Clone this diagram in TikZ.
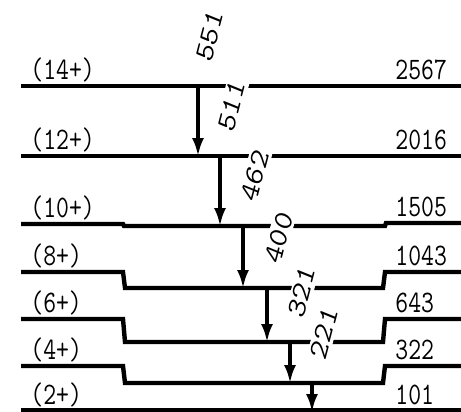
\documentclass[tikz,border=0pt]{standalone}
\usetikzlibrary{arrows.meta,calc}
\begin{document}
\begin{tikzpicture}[x=0.5pt, y=-0.5pt,
    level/.style={line width=2.2pt},
    gamma/.style={line width=1.6pt, -{Latex[length=9pt,width=6pt]}},
    spin/.style={font=\fontsize{12.5}{14}\ttfamily, yscale=1.25, anchor=base west, inner sep=0pt},
    egam/.style={font=\fontsize{13.5}{15}\ttfamily, yscale=1.25, rotate=72, fill=white, inner sep=1.2pt}]
    \useasboundingbox (0,0) rectangle (461,412);
    % levels
    \draw [level] (21,86) -- (461,86);
    \draw [level] (21,156) -- (461,156);
    \draw [level] (21,224) -- (123,224) -- (124,226) -- (385,226) -- (386,223) -- (461,223);
    \foreach \u/\d in {272/288, 319/342, 366/383}
        \draw [level] (21,\u) -- (123,\u) -- (125,\d) -- (383,\d) -- (385,\u) -- (461,\u);
    \draw [level] (21,410) -- (461,410);
    % spins and energies
    \node [spin] (s14) at (30,79) {(14+)};
    \node [spin] (s12) at (30,149) {(12+)};
    \node [spin] (s10) at (30,217) {(10+)};
    \node [spin] (s8) at (30,265) {(8+)};
    \node [spin] (s6) at (30,312) {(6+)};
    \node [spin] (s4) at (30,359) {(4+)};
    \node [spin] (s2) at (30,404) {(2+)};
    \node [spin] (e14) at (395,79) {2567};
    \node [spin] (e12) at (395,149) {2016};
    \node [spin] (e10) at (395,216) {1505};
    \node [spin] (e8) at (395,265) {1043};
    \node [spin] (e6) at (395,312) {643};
    \node [spin] (e4) at (395,359) {322};
    \node [spin] (e2) at (395,404) {101};
    % transitions
    \coordinate (t1) at (198,86);  \coordinate (b1) at (198,156);
    \coordinate (t2) at (220,156); \coordinate (b2) at (220,226);
    \coordinate (t3) at (243,226); \coordinate (b3) at (243,288);
    \coordinate (t4) at (267,288); \coordinate (b4) at (267,342);
    \coordinate (t5) at (290,342); \coordinate (b5) at (290,383);
    \coordinate (t6) at (312,383); \coordinate (b6) at (312,412);
    \foreach \k/\e in {1/551, 2/511, 3/462, 4/400, 5/321, 6/221} {
        \draw [gamma] (t\k) -- (b\k);
        \node [egam] (g\k) at ($(t\k)+(12,-50)$) {\e};
    }
\end{tikzpicture}
\end{document}
